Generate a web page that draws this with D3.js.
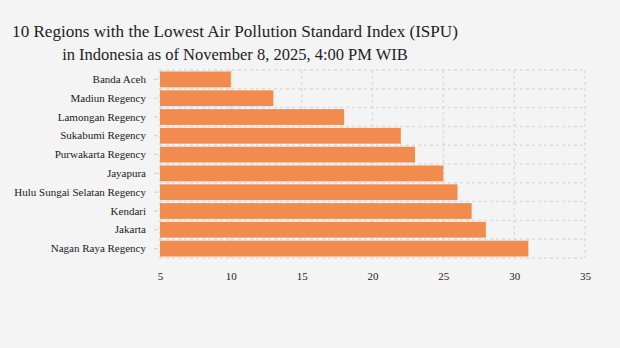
<!DOCTYPE html>
<html><head><meta charset="utf-8">
<script src="https://cdn.jsdelivr.net/npm/d3@7"></script>
<style>
html,body{margin:0;padding:0;background:#f4f4f4;}
svg{display:block;}
</style></head>
<body>
<svg id="chart" width="620" height="348"></svg>
<script>
const categories = ["Banda Aceh","Madiun Regency","Lamongan Regency","Sukabumi Regency","Purwakarta Regency","Jayapura","Hulu Sungai Selatan Regency","Kendari","Jakarta","Nagan Raya Regency"];
const values = [10,13,18,22,23,25,26,27,28,31];
const xTicks = [5,10,15,20,25,30,35];
const titleLines = ["10 Regions with the Lowest Air Pollution Standard Index (ISPU)","in Indonesia as of November 8, 2025, 4:00 PM WIB"];

const svg = d3.select("#chart");
svg.append("rect").attr("width",620).attr("height",348).attr("fill","#f4f4f4");

const margin = {left:160, right:35, top:70, bottom:90};
const W = 620, H = 348;
const x = d3.scaleLinear().domain([5,35]).range([margin.left, W - margin.right]);
const y = d3.scaleBand().domain(categories).range([margin.top, H - margin.bottom]).paddingInner(0.16).paddingOuter(0.08);

// title
const tW = [446, 346];
const title = svg.append("g");
titleLines.forEach((t,i)=>{
  const el = title.append("text").attr("x",235).attr("y",37 + i*23).attr("text-anchor","middle")
    .attr("font-family","'Liberation Serif',serif").attr("font-size",18).attr("fill","#222").text(t);
  const w = el.node().getComputedTextLength();
  el.attr("font-size", 18 * tW[i] / w);
});

// grid
const grid = svg.append("g").attr("stroke","#dcdcdc").attr("stroke-width",1.5).attr("stroke-dasharray","3,3").attr("fill","none");
const yBounds = categories.map(c => y(c) - y.step()*y.paddingInner()/2);
yBounds[0] = margin.top;
yBounds.push(H - margin.bottom);
grid.selectAll("line.h").data(yBounds).join("line").attr("class","h")
  .attr("x1",x(5)).attr("x2",x(35)).attr("y1",d=>d).attr("y2",d=>d);
grid.selectAll("line.v").data(xTicks).join("line").attr("class","v")
  .attr("x1",d=>x(d)).attr("x2",d=>x(d)).attr("y1",margin.top).attr("y2",H-margin.bottom);

// bars
svg.append("g").selectAll("rect").data(categories).join("rect")
  .attr("x",x(5)).attr("y",d=>y(d)).attr("height",y.bandwidth())
  .attr("width",(d,i)=>x(values[i]) - x(5)).attr("fill","#f28b4e");

// y axis
const yAxis = svg.append("g").attr("transform",`translate(${margin.left},0)`)
  .call(d3.axisLeft(y).tickSize(4).tickPadding(10));
yAxis.attr("font-family","'Liberation Serif',serif").attr("font-size",11);
yAxis.select(".domain").remove();
yAxis.selectAll(".tick line").attr("stroke","#cfcfcf").attr("x2",-6).attr("x1",-2);
yAxis.selectAll(".tick text").attr("fill","#1a1a1a");

// x axis
const xAxis = svg.append("g").attr("transform",`translate(0,${H-margin.bottom})`)
  .call(d3.axisBottom(x).tickValues(xTicks).tickSize(0).tickPadding(14));
xAxis.attr("font-family","'Liberation Serif',serif").attr("font-size",11);
xAxis.select(".domain").remove();
xAxis.selectAll(".tick text").attr("fill","#1a1a1a");
</script>
</body></html>
